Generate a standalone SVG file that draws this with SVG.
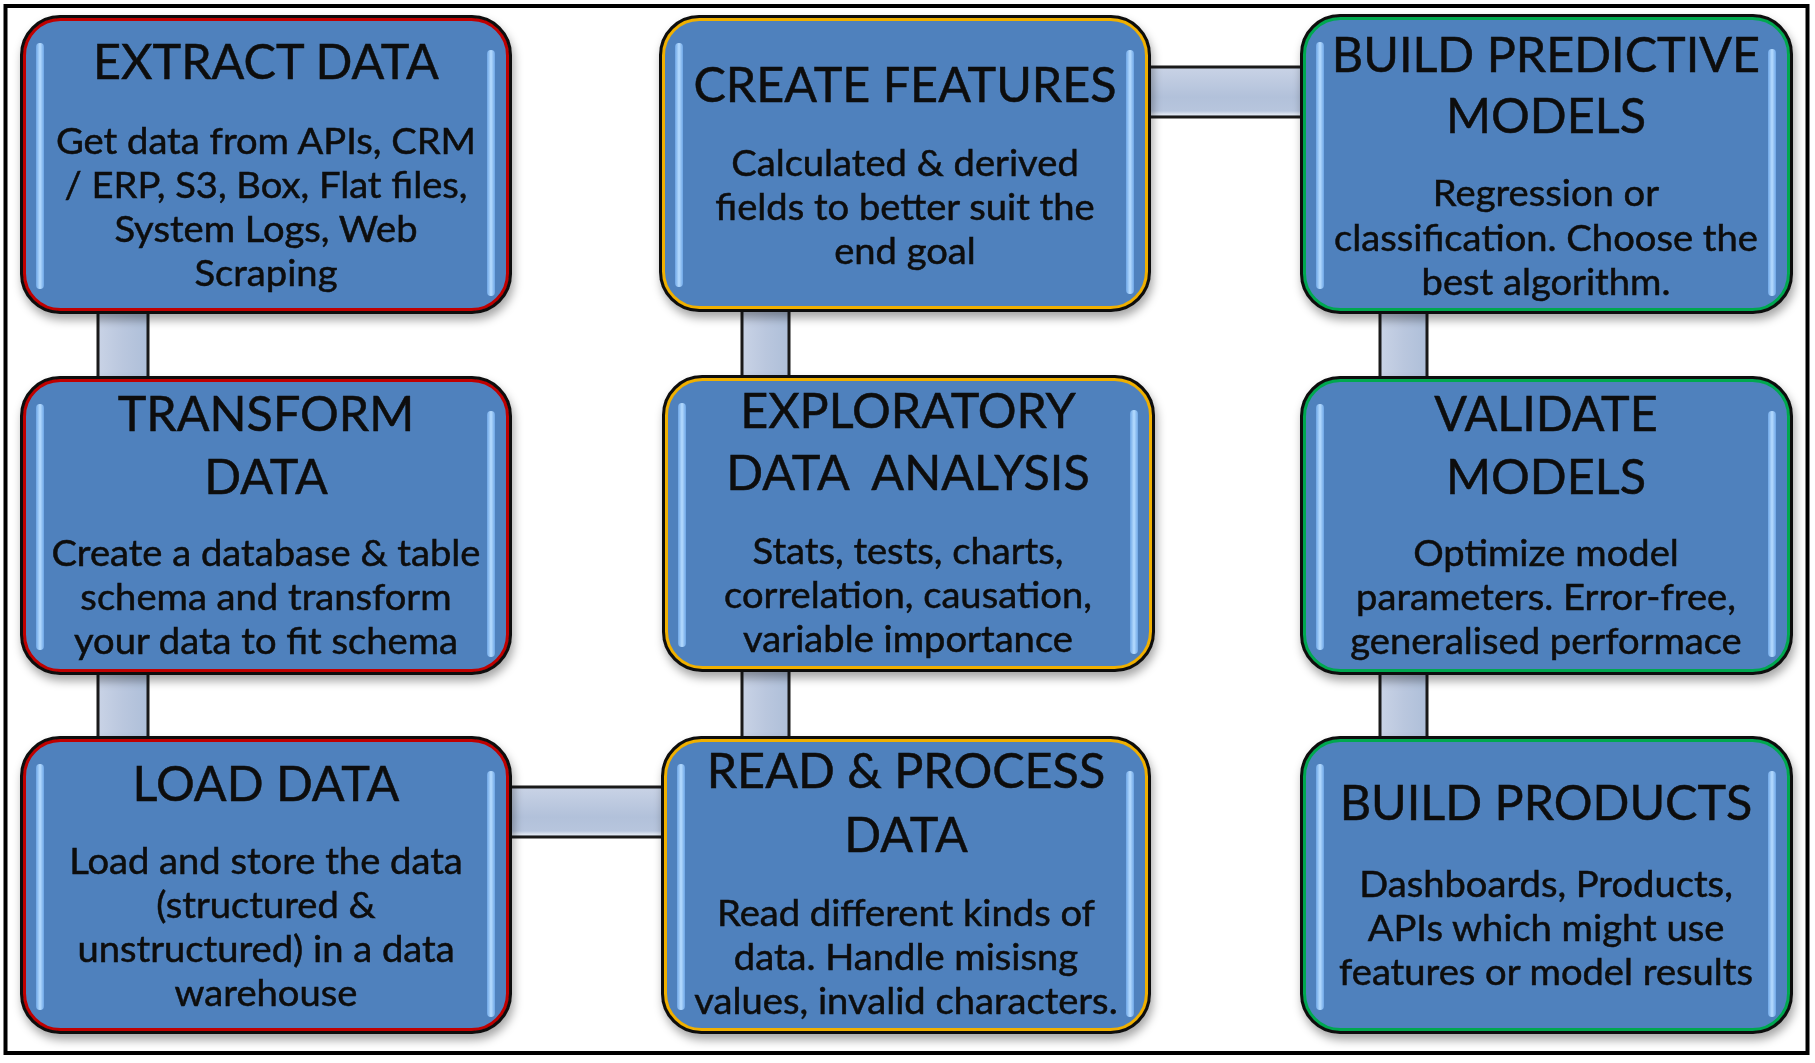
<svg xmlns="http://www.w3.org/2000/svg" width="1815" height="1063" viewBox="0 0 1815 1063">
<defs>
<linearGradient id="gv" x1="0" y1="0" x2="1" y2="0">
<stop offset="0" stop-color="#c9d3e6"/><stop offset="0.5" stop-color="#bac7de"/><stop offset="1" stop-color="#aebfd9"/>
</linearGradient>
<linearGradient id="gh" x1="0" y1="0" x2="0" y2="1">
<stop offset="0" stop-color="#c9d3e6"/><stop offset="0.6" stop-color="#b2c1da"/><stop offset="0.88" stop-color="#b7c5dd"/><stop offset="0.95" stop-color="#dfe6f1"/><stop offset="1" stop-color="#b2c1da"/>
</linearGradient>
<linearGradient id="hl" x1="0" y1="0" x2="1" y2="0">
<stop offset="0" stop-color="#6ea6e6"/><stop offset="0.5" stop-color="#b6dcff"/><stop offset="1" stop-color="#6ea6e6"/>
</linearGradient>
<filter id="sh" x="-10%" y="-10%" width="120%" height="125%">
<feDropShadow dx="2" dy="6" stdDeviation="5" flood-color="#000" flood-opacity="0.35"/>
</filter>
</defs>
<style>
.frame{fill:#fff;stroke:#000;stroke-width:4}
.conn rect{stroke:#1a1a1a;stroke-width:3}
.box{fill:#4f81bd;stroke:#111;stroke-width:4}
.red{fill:none;stroke:#c00000;stroke-width:3}
.gold{fill:none;stroke:#f0b000;stroke-width:3}
.green{fill:none;stroke:#00a850;stroke-width:3}
.hl{fill:url(#hl)}
text{font-family:Lato,"Open Sans","Liberation Sans",sans-serif;fill:#0d0d0d;stroke:#0d0d0d;stroke-width:0.5;text-anchor:middle}
.t{font-size:48.5px}
.b{font-size:36px}
</style>
<rect class="frame" x="5.5" y="6" width="1802" height="1047"/>
<g id="connectors" class="conn">
<rect x="98" y="300" width="50" height="90" fill="url(#gv)"/>
<rect x="98" y="660" width="50" height="90" fill="url(#gv)"/>
<rect x="500" y="787" width="175" height="50" fill="url(#gh)"/>
<rect x="742" y="660" width="47" height="90" fill="url(#gv)"/>
<rect x="742" y="300" width="47" height="90" fill="url(#gv)"/>
<rect x="1140" y="67" width="170" height="50" fill="url(#gh)"/>
<rect x="1380" y="300" width="47" height="90" fill="url(#gv)"/>
<rect x="1380" y="660" width="47" height="90" fill="url(#gv)"/>
</g>
<g id="extract" filter="url(#sh)">
<rect class="box" x="22" y="17" width="488" height="295" rx="38"/>
<rect class="red" x="24.5" y="19.5" width="483" height="290" rx="36"/>
<rect class="hl" x="36" y="43" width="8" height="246" rx="4"/>
<rect class="hl" x="487" y="50" width="8" height="246" rx="4"/>
<text class="t" x="266" y="79">EXTRACT DATA</text>
<text class="b" transform="translate(266 0) scale(1.06 1) translate(-266 0)"><tspan x="266" y="154">Get data from APIs, CRM</tspan><tspan x="266" y="198">/ ERP, S3, Box, Flat files,</tspan><tspan x="266" y="242">System Logs, Web</tspan><tspan x="266" y="286">Scraping</tspan></text>
</g>
<g id="transform" filter="url(#sh)">
<rect class="box" x="22" y="378" width="488" height="295" rx="38"/>
<rect class="red" x="24.5" y="380.5" width="483" height="290" rx="36"/>
<rect class="hl" x="36" y="404" width="8" height="246" rx="4"/>
<rect class="hl" x="487" y="411" width="8" height="246" rx="4"/>
<text class="t"><tspan x="266" y="431">TRANSFORM</tspan><tspan x="266" y="494">DATA</tspan></text>
<text class="b" transform="translate(266 0) scale(1.06 1) translate(-266 0)"><tspan x="266" y="566">Create a database &amp; table</tspan><tspan x="266" y="610">schema and transform</tspan><tspan x="266" y="654">your data to fit schema</tspan></text>
</g>
<g id="load" filter="url(#sh)">
<rect class="box" x="22" y="738" width="488" height="294" rx="38"/>
<rect class="red" x="24.5" y="740.5" width="483" height="289" rx="36"/>
<rect class="hl" x="36" y="764" width="8" height="246" rx="4"/>
<rect class="hl" x="487" y="771" width="8" height="246" rx="4"/>
<text class="t" x="266" y="801">LOAD DATA</text>
<text class="b" transform="translate(266 0) scale(1.06 1) translate(-266 0)"><tspan x="266" y="874">Load and store the data</tspan><tspan x="266" y="918">(structured &amp;</tspan><tspan x="266" y="962">unstructured) in a data</tspan><tspan x="266" y="1006">warehouse</tspan></text>
</g>
<g id="create" filter="url(#sh)">
<rect class="box" x="661" y="17" width="488" height="293" rx="38"/>
<rect class="gold" x="663.5" y="19.5" width="483" height="288" rx="36"/>
<rect class="hl" x="675" y="43" width="8" height="244" rx="4"/>
<rect class="hl" x="1126" y="50" width="8" height="244" rx="4"/>
<text class="t" x="905" y="102">CREATE FEATURES</text>
<text class="b" transform="translate(905 0) scale(1.06 1) translate(-905 0)"><tspan x="905" y="176">Calculated &amp; derived</tspan><tspan x="905" y="220">fields to better suit the</tspan><tspan x="905" y="264">end goal</tspan></text>
</g>
<g id="eda" filter="url(#sh)">
<rect class="box" x="664" y="377" width="489" height="293" rx="38"/>
<rect class="gold" x="666.5" y="379.5" width="484" height="288" rx="36"/>
<rect class="hl" x="678" y="403" width="8" height="244" rx="4"/>
<rect class="hl" x="1130" y="410" width="8" height="244" rx="4"/>
<text class="t" xml:space="preserve"><tspan x="908" y="428">EXPLORATORY</tspan><tspan x="908" y="490">DATA  ANALYSIS</tspan></text>
<text class="b" transform="translate(908 0) scale(1.06 1) translate(-908 0)"><tspan x="908" y="564">Stats, tests, charts,</tspan><tspan x="908" y="608">correlation, causation,</tspan><tspan x="908" y="652">variable importance</tspan></text>
</g>
<g id="read" filter="url(#sh)">
<rect class="box" x="663" y="738" width="486" height="294" rx="38"/>
<rect class="gold" x="665.5" y="740.5" width="481" height="289" rx="36"/>
<rect class="hl" x="677" y="764" width="8" height="246" rx="4"/>
<rect class="hl" x="1126" y="771" width="8" height="246" rx="4"/>
<text class="t"><tspan x="906" y="788">READ &amp; PROCESS</tspan><tspan x="906" y="852">DATA</tspan></text>
<text class="b" transform="translate(906 0) scale(1.06 1) translate(-906 0)"><tspan x="906" y="926">Read different kinds of</tspan><tspan x="906" y="970">data. Handle misisng</tspan><tspan x="906" y="1014">values, invalid characters.</tspan></text>
</g>
<g id="predict" filter="url(#sh)">
<rect class="box" x="1302" y="16" width="489" height="296" rx="38"/>
<rect class="green" x="1304.5" y="18.5" width="484" height="291" rx="36"/>
<rect class="hl" x="1316" y="42" width="8" height="247" rx="4"/>
<rect class="hl" x="1768" y="49" width="8" height="247" rx="4"/>
<text class="t"><tspan x="1546" y="72">BUILD PREDICTIVE</tspan><tspan x="1546" y="133">MODELS</tspan></text>
<text class="b" transform="translate(1546 0) scale(1.06 1) translate(-1546 0)"><tspan x="1546" y="206">Regression or</tspan><tspan x="1546" y="251">classification. Choose the</tspan><tspan x="1546" y="295">best algorithm.</tspan></text>
</g>
<g id="validate" filter="url(#sh)">
<rect class="box" x="1302" y="378" width="489" height="295" rx="38"/>
<rect class="green" x="1304.5" y="380.5" width="484" height="290" rx="36"/>
<rect class="hl" x="1316" y="404" width="8" height="246" rx="4"/>
<rect class="hl" x="1768" y="411" width="8" height="246" rx="4"/>
<text class="t"><tspan x="1546" y="431">VALIDATE</tspan><tspan x="1546" y="494">MODELS</tspan></text>
<text class="b" transform="translate(1546 0) scale(1.06 1) translate(-1546 0)"><tspan x="1546" y="566">Optimize model</tspan><tspan x="1546" y="610">parameters. Error-free,</tspan><tspan x="1546" y="654">generalised performace</tspan></text>
</g>
<g id="products" filter="url(#sh)">
<rect class="box" x="1302" y="738" width="489" height="294" rx="38"/>
<rect class="green" x="1304.5" y="740.5" width="484" height="289" rx="36"/>
<rect class="hl" x="1316" y="764" width="8" height="246" rx="4"/>
<rect class="hl" x="1768" y="771" width="8" height="246" rx="4"/>
<text class="t" x="1546" y="820">BUILD PRODUCTS</text>
<text class="b" transform="translate(1546 0) scale(1.06 1) translate(-1546 0)"><tspan x="1546" y="897">Dashboards, Products,</tspan><tspan x="1546" y="941">APIs which might use</tspan><tspan x="1546" y="985">features or model results</tspan></text>
</g>
</svg>
